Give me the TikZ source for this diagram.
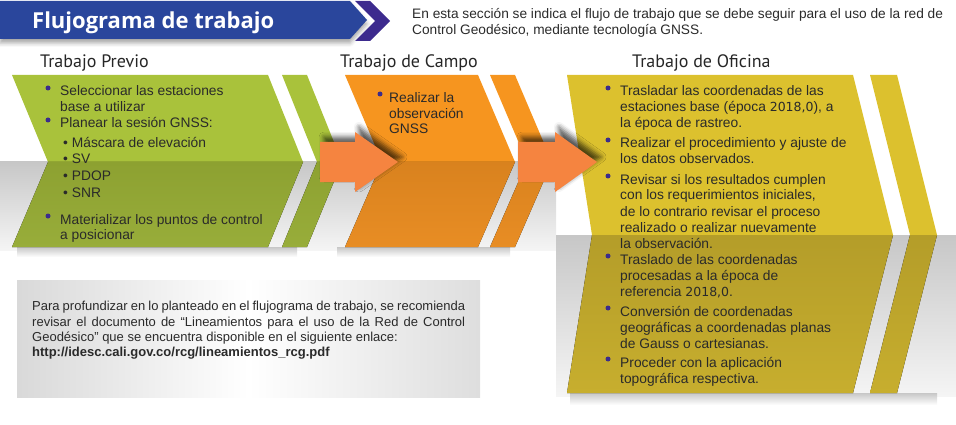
\documentclass[tikz,border=0pt]{standalone}
\usepackage{fontspec}
\setmainfont{Liberation Sans}
\newfontfamily\titlefont{Open Sans}
\newfontfamily\headfont{PT Sans}
\newfontfamily\digfont{DejaVu Sans}
\usetikzlibrary{shadows.blur}
\definecolor{bannerc}{HTML}{2A469C}
\definecolor{chevc}{HTML}{3D2B8E}
\definecolor{greenA}{HTML}{A9C23B}
\definecolor{greenB}{HTML}{8DA131}
\definecolor{greenC}{HTML}{98AD3A}
\definecolor{orA}{HTML}{F6951F}
\definecolor{orB}{HTML}{D9821E}
\definecolor{orC}{HTML}{E88D24}
\definecolor{yeA}{HTML}{DCC12E}
\definecolor{yeB}{HTML}{B49D29}
\definecolor{yeC}{HTML}{C7AE2E}
\definecolor{arrc}{HTML}{F58440}
\definecolor{bulc}{HTML}{3B2C8C}
\definecolor{txt}{HTML}{2A2A2A}
\newcommand\dg[1]{{\digfont\fontsize{12.5}{16}\selectfont #1}}
\begin{document}
\begin{tikzpicture}[x=1pt,y=-1pt,
  body/.style={anchor=base west, inner sep=0, font=\fontsize{13.8}{16}\selectfont, text=txt},
  bul/.style={circle, fill=bulc, inner sep=0, minimum size=5pt},
  head/.style={anchor=base west, inner sep=0, font=\headfont\fontsize{18}{20}\selectfont, text=black!85},
  desc/.style={anchor=base west, inner sep=0, font=\fontsize{13}{16}\selectfont, text=txt},
  band/.style={top color=black!22, bottom color=black!4},
  floor/.style={top color=black!22, bottom color=white},
  blockarrow/.style={fill=arrc, blur shadow={shadow xshift=4pt, shadow yshift=5pt, shadow blur radius=5pt, shadow opacity=65}}
]
\useasboundingbox (0,0) rectangle (956,425);

% ---------- header ----------
\fill[bannerc, blur shadow={shadow xshift=0pt, shadow yshift=-4pt, shadow blur radius=4pt, shadow opacity=35}]
  (0,1) -- (350,1) -- (367,20) -- (350,39) -- (0,39) -- cycle;
\fill[chevc] (355,1) -- (370,1) -- (390,21) -- (370,41) -- (355,41) -- (375,21) -- cycle;
\node[anchor=base west, inner sep=0, text=white, font=\titlefont\bfseries\fontsize{22}{26}\selectfont] (title) at (32,29) {Flujograma de trabajo};
\node[desc, font=\fontsize{13.7}{16}\selectfont] (d1) at (412,18.5) {En esta sección se indica el flujo de trabajo que se debe seguir para el uso de la red de};
\node[desc, font=\fontsize{13.7}{16}\selectfont] (d2) at (412,34.5) {Control Geodésico, mediante tecnología GNSS.};

% ---------- headings ----------
\node[head] (h1) at (40,68) {Trabajo Previo};
\node[head] (h2) at (340,68) {Trabajo de Campo};
\node[head] (h3) at (632,68) {Trabajo de Oficina};

% ---------- background bands ----------
\fill[band] (0,162) rectangle (556,250);
\fill[band] (556,235) rectangle (956,396);
\fill[floor] (17,247) rectangle (297,257);
\fill[floor] (337,247) rectangle (510,257);
\fill[floor] (570,393) rectangle (937,405);

% ---------- green chevrons ----------
\fill[greenA] (12,75) -- (268,75) -- (303,162) -- (48,162) -- cycle;
\fill[top color=greenB, bottom color=greenC] (48,162) -- (303,162) -- (268,247) -- (12,247) -- cycle;
\fill[greenA] (282,75) -- (307,75) -- (342,162) -- (317,162) -- cycle;
\fill[top color=greenB, bottom color=greenC] (317,162) -- (342,162) -- (307,247) -- (282,247) -- cycle;

% ---------- orange chevrons ----------
\fill[orA] (345,75) -- (478,75) -- (515,162) -- (382,162) -- cycle;
\fill[top color=orB, bottom color=orC] (382,162) -- (515,162) -- (478,247) -- (345,247) -- cycle;
\fill[orA] (490,75) -- (515,75) -- (552,162) -- (527,162) -- cycle;
\fill[top color=orB, bottom color=orC] (527,162) -- (552,162) -- (515,247) -- (490,247) -- cycle;

% ---------- office chevrons ----------
\fill[yeA] (567,75) -- (853,75) -- (893,235) -- (592,235) -- cycle;
\fill[top color=yeB, bottom color=yeC] (592,235) -- (893,235) -- (853,393) -- (567,393) -- cycle;
\fill[yeA] (870,75) -- (897,75) -- (937,235) -- (910,235) -- cycle;
\fill[top color=yeB, bottom color=yeC] (910,235) -- (937,235) -- (897,393) -- (870,393) -- cycle;

% ---------- block arrows ----------
\fill[blockarrow] (320,142) -- (355,142) -- (355,132) -- (398,162) -- (355,192) -- (355,182) -- (320,182) -- cycle;
\fill[blockarrow] (518,142) -- (555,142) -- (555,132) -- (597,162) -- (555,192) -- (555,182) -- (518,182) -- cycle;

% ---------- green text ----------
\node[bul] (gb1) at (48,88) {};
\node[bul] (gb2) at (48,120) {};
\node[bul] (gb3) at (48,216) {};
\node[body] (g1) at (60,96) {Seleccionar las estaciones};
\node[body] (g2) at (60,112) {base a utilizar};
\node[body] (g3) at (60,128) {Planear la sesión GNSS:};
\node[body] (g4) at (63,148) {• Máscara de elevación};
\node[body] (g5) at (63,164) {• SV};
\node[body] (g6) at (63,181) {• PDOP};
\node[body] (g7) at (63,197) {• SNR};
\node[body] (g8) at (60,224) {Materializar los puntos de control};
\node[body] (g9) at (60,239) {a posicionar};

% ---------- orange text ----------
\node[bul] (ob1) at (380,94) {};
\node[body] (o1) at (389,103) {Realizar la};
\node[body] (o2) at (389,118.5) {observación};
\node[body] (o3) at (389,134) {GNSS};

% ---------- office text ----------
\foreach \y [count=\i] in {88,140,176,256,308,359} {
  \node[bul] (yb\i) at (608,\y) {};
}
\node[body] (y1) at (620,96) {Trasladar las coordenadas de las};
\node[body] (y2) at (620,112) {estaciones base (época \dg{2018,0}), a};
\node[body] (y3) at (620,128) {la época de rastreo.};
\node[body] (y4) at (620,148) {Realizar el procedimiento y ajuste de};
\node[body] (y5) at (620,164) {los datos observados.};
\node[body] (y6) at (620,184) {Revisar si los resultados cumplen};
\node[body] (y7) at (620,200) {con los requerimientos iniciales,};
\node[body] (y8) at (620,216) {de lo contrario revisar el proceso};
\node[body] (y9) at (620,232) {realizado o realizar nuevamente};
\node[body] (y10) at (620,248) {la observación.};
\node[body] (y11) at (620,264) {Traslado de las coordenadas};
\node[body] (y12) at (620,280) {procesadas a la época de};
\node[body] (y13) at (620,296) {referencia \dg{2018,0}.};
\node[body] (y14) at (620,316) {Conversión de coordenadas};
\node[body] (y15) at (620,332) {geográficas a coordenadas planas};
\node[body] (y16) at (620,348) {de Gauss o cartesianas.};
\node[body] (y17) at (620,367) {Proceder con la aplicación};
\node[body] (y18) at (620,383) {topográfica respectiva.};

% ---------- info box ----------
\fill[left color=black!15, right color=black!13, middle color=white] (17,280) rectangle (480,397);
\node[desc] (b1) at (32,310) {\makebox[433pt][s]{Para profundizar en lo planteado en el flujograma de trabajo, se recomienda}};
\node[desc] (b2) at (32,326) {\makebox[433pt][s]{revisar el documento de “Lineamientos para el uso de la Red de Control}};
\node[desc] (b3) at (32,341) {Geodésico” que se encuentra disponible en el siguiente enlace:};
\node[desc, font=\bfseries\fontsize{13}{16}\selectfont] (b4) at (32,356) {http://idesc.cali.gov.co/rcg/lineamientos\_rcg.pdf};
\end{tikzpicture}
\end{document}
